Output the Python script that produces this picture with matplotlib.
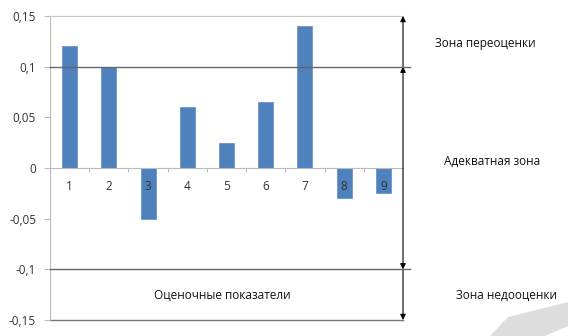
import matplotlib.pyplot as plt
from matplotlib.patches import Polygon
from matplotlib.ticker import FixedLocator, FuncFormatter

plt.rcParams['font.family'] = ['Open Sans', 'DejaVu Sans']

# отклонения оценок по показателям
labels = ['1', '2', '3', '4', '5', '6', '7', '8', '9']
values = [0.12, 0.10, -0.05, 0.06, 0.025, 0.065, 0.14, -0.03, -0.025]
y_ticks = [-0.15, -0.1, -0.05, 0, 0.05, 0.1, 0.15]
upper, lower = 0.1, -0.1

fig = plt.figure(figsize=(5.68, 3.36), dpi=100)
ax = fig.add_axes([50 / 568, 16 / 336, 353 / 568, 304 / 336])

x = list(range(1, len(values) + 1))
ax.bar(x, values, width=0.38, color='#4F81BD', edgecolor='#6B95C8', linewidth=0.6, zorder=1)

ax.set_xlim(0.5, len(values) + 0.5)
ax.set_ylim(-0.15, 0.15)

# ось категорий проходит через ноль
ax.spines['right'].set_visible(False)
ax.spines['bottom'].set_position(('data', 0))
ax.spines['bottom'].set_color('#BBBBBB')
ax.spines['left'].set_color('#BBBBBB')
ax.spines['top'].set_color('#C8C8C8')
ax.xaxis.set_major_locator(FixedLocator([i + 0.5 for i in range(len(values))]))
ax.xaxis.set_major_formatter(FuncFormatter(lambda v, p: ''))
ax.xaxis.set_minor_locator(FixedLocator(x))
ax.xaxis.set_minor_formatter(FuncFormatter(lambda v, p: labels[int(round(v)) - 1]))
ax.tick_params(axis='x', which='major', direction='out', length=3, color='#BBBBBB')
ax.tick_params(axis='x', which='minor', length=0, pad=9, labelsize=8.5, labelcolor='#333333')

ax.set_yticks(y_ticks)
ax.yaxis.set_major_formatter(FuncFormatter(lambda v, p: ('%g' % round(v, 2)).replace('.', ',')))
ax.tick_params(axis='y', direction='out', length=4, color='#BBBBBB', labelsize=8.5, labelcolor='#333333', pad=6)

# нижняя граница области
ax.plot([0, 1], [-0.15, -0.15], transform=ax.get_yaxis_transform(), color='#777777', lw=1.0, clip_on=False)

# границы зон
for lvl in (upper, lower):
    ax.plot([0, 1.02], [lvl, lvl], transform=ax.get_yaxis_transform(), color='#666666', lw=1.0, clip_on=False, zorder=4)

# стрелки зон
arrow = dict(arrowstyle='-|>', color='black', lw=0.8, mutation_scale=8, shrinkA=0, shrinkB=0)
ax.annotate('', xy=(1.0, 0.15), xytext=(1.0, upper), xycoords=ax.get_yaxis_transform(),
            arrowprops=arrow, annotation_clip=False)
ax.annotate('', xy=(1.0, upper), xytext=(1.0, lower), xycoords=ax.get_yaxis_transform(),
            arrowprops=dict(arrow, arrowstyle='<|-|>'), annotation_clip=False)
ax.annotate('', xy=(1.0, -0.15), xytext=(1.0, lower), xycoords=ax.get_yaxis_transform(),
            arrowprops=arrow, annotation_clip=False)

tk = dict(fontsize=8.5, color='#111111', ha='center', va='center')
fig.text(485 / 568, 1 - 43 / 336, 'Зона переоценки', **tk)
fig.text(492 / 568, 1 - 161 / 336, 'Адекватная зона', **tk)
fig.text(507 / 568, 1 - 295 / 336, 'Зона недооценки', **tk)
fig.text(222 / 568, 1 - 295 / 336, 'Оценочные показатели', **tk)

# серый клин в углу
fig.patches.append(Polygon([(490 / 568, 0), (508 / 568, 19 / 336), (568 / 568, 34 / 336), (568 / 568, 10 / 336), (545 / 568, 0)],
                           closed=True, transform=fig.transFigure, facecolor='#DDDDDD', edgecolor='none'))

fig.savefig('out.png', dpi=100)
